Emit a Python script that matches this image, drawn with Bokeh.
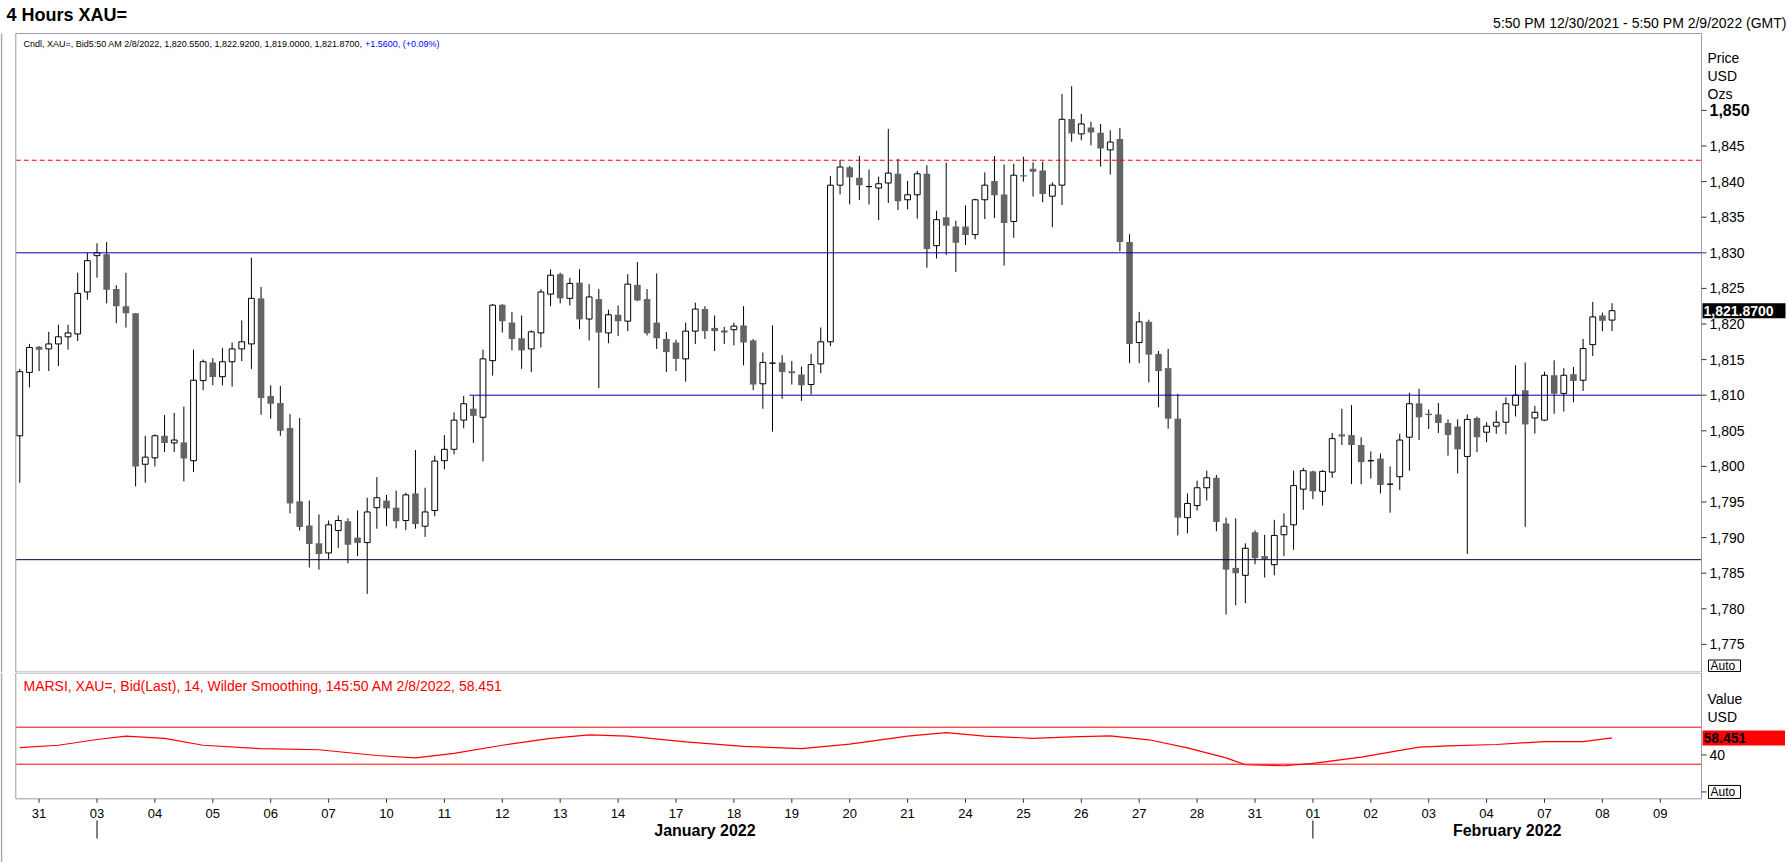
import numpy as np
from bokeh.plotting import figure
from bokeh.models import Range1d, ColumnDataSource
from bokeh.core.properties import value
from bokeh.layouts import column
from bokeh.embed import file_html
from bokeh.resources import INLINE

# ---------------- data (4-hour XAU= bid candles) ----------------
opens = [1804.3, 1813.2, 1816.8, 1816.5, 1817.2, 1818.2, 1818.6, 1824.5, 1829.6, 1829.8,
         1824.9, 1822.5, 1821.5, 1800.3, 1801.2, 1804.3, 1803.3, 1803.35, 1800.8, 1812.05,
         1814.6, 1812.6, 1814.7, 1816.5, 1817.2, 1823.6, 1809.9, 1808.9, 1805.4, 1795.1,
         1791.7, 1789.2, 1787.85, 1791.0, 1792.3, 1790.0, 1789.3, 1794.2, 1795.2, 1794.2,
         1792.4, 1796.2, 1791.6, 1793.8, 1800.8, 1802.4, 1806.5, 1808.1, 1806.9, 1814.85,
         1822.7, 1820.2, 1818.0, 1816.5, 1818.75, 1824.2, 1827.0, 1823.6, 1825.8, 1820.7,
         1823.5, 1818.75, 1821.3, 1820.4, 1825.5, 1823.5, 1820.2, 1817.9, 1817.4, 1815.1,
         1819.0, 1822.1, 1819.45, 1819.1, 1819.2, 1819.8, 1817.7, 1811.6, 1814.5, 1814.6,
         1813.35, 1812.9, 1811.5, 1814.4, 1817.5, 1839.5, 1842.0, 1840.55, 1839.3, 1839.1,
         1839.8, 1841.1, 1837.45, 1838.15, 1841.1, 1831.0, 1835.0, 1833.7, 1833.7, 1832.55,
         1837.45, 1840.1, 1838.2, 1834.4, 1840.9, 1841.8, 1841.55, 1837.95, 1839.5, 1848.8,
         1846.7, 1847.6, 1846.85, 1844.45, 1846.0, 1831.5, 1817.4, 1820.3, 1815.8, 1813.8,
         1806.7, 1792.8, 1794.5, 1797.0, 1798.4, 1792.0, 1785.75, 1784.7, 1790.75, 1787.4,
         1786.2, 1790.4, 1791.8, 1796.8, 1799.3, 1796.5, 1799.2, 1804.5, 1804.4, 1803.0,
         1800.8, 1801.1, 1797.5, 1798.55, 1804.1, 1808.85, 1807.4, 1807.3, 1806.1, 1805.6,
         1801.4, 1806.8, 1804.8, 1805.65, 1806.2, 1808.6, 1810.7, 1806.8, 1806.5, 1812.8,
         1810.25, 1812.95, 1812.1, 1817.1, 1821.2, 1820.55]
highs = [1813.7, 1817.2, 1816.9, 1818.9, 1819.9, 1819.9, 1827.2, 1830.0, 1831.35, 1831.5,
         1825.45, 1827.2, 1821.5, 1804.3, 1804.5, 1807.2, 1807.5, 1808.4, 1816.4, 1815.0,
         1815.2, 1816.6, 1817.4, 1820.5, 1829.3, 1825.2, 1811.4, 1811.3, 1807.35, 1806.8,
         1795.2, 1793.25, 1792.4, 1793.1, 1792.7, 1793.8, 1795.6, 1798.5, 1796.0, 1796.6,
         1796.3, 1802.3, 1797.0, 1801.5, 1804.4, 1807.6, 1809.9, 1809.9, 1816.4, 1822.8,
         1822.8, 1821.7, 1821.2, 1819.1, 1824.9, 1827.7, 1827.2, 1826.5, 1827.7, 1825.6,
         1824.9, 1822.0, 1822.6, 1827.0, 1828.7, 1824.9, 1827.1, 1818.9, 1817.8, 1820.2,
         1823.0, 1822.5, 1821.2, 1819.6, 1820.2, 1822.5, 1817.9, 1816.0, 1819.8, 1815.6,
         1814.8, 1814.0, 1815.8, 1819.5, 1840.8, 1843.0, 1842.2, 1843.6, 1841.7, 1840.7,
         1847.4, 1843.2, 1840.1, 1841.5, 1842.3, 1835.9, 1842.65, 1834.5, 1836.65, 1837.6,
         1841.3, 1843.6, 1842.4, 1842.5, 1843.5, 1842.7, 1842.8, 1839.9, 1852.3, 1853.4,
         1849.5, 1848.4, 1848.1, 1847.2, 1847.5, 1832.6, 1821.7, 1820.6, 1816.2, 1816.5,
         1810.2, 1796.2, 1798.0, 1799.4, 1798.8, 1792.8, 1792.7, 1789.2, 1791.0, 1790.4,
         1792.5, 1793.4, 1799.4, 1799.8, 1799.4, 1799.5, 1804.7, 1808.1, 1808.6, 1804.1,
         1802.1, 1801.8, 1800.0, 1804.6, 1810.35, 1810.9, 1808.0, 1808.9, 1806.6, 1806.6,
         1807.3, 1807.0, 1806.2, 1807.8, 1809.7, 1814.2, 1814.6, 1808.5, 1813.3, 1814.9,
         1813.8, 1813.95, 1817.9, 1823.1, 1821.6, 1822.92]
lows = [1797.7, 1811.1, 1813.4, 1813.4, 1814.1, 1816.4, 1817.6, 1823.4, 1826.5, 1822.9,
        1820.1, 1819.5, 1797.2, 1797.7, 1800.0, 1802.0, 1802.0, 1797.9, 1799.2, 1810.7,
        1811.4, 1811.4, 1811.2, 1814.8, 1813.7, 1807.25, 1806.7, 1804.3, 1793.4, 1791.0,
        1785.8, 1785.5, 1787.0, 1788.55, 1786.4, 1787.4, 1782.1, 1791.25, 1791.6, 1791.3,
        1791.05, 1791.25, 1790.1, 1793.0, 1799.6, 1801.7, 1805.35, 1803.3, 1800.7, 1812.75,
        1818.8, 1816.3, 1813.7, 1813.25, 1816.7, 1822.5, 1822.9, 1822.6, 1819.3, 1817.7,
        1811.0, 1817.3, 1818.3, 1819.0, 1823.2, 1818.4, 1816.5, 1813.25, 1813.4, 1811.9,
        1817.2, 1817.9, 1816.2, 1817.2, 1817.0, 1814.2, 1810.7, 1808.1, 1804.9, 1809.5,
        1811.5, 1809.2, 1810.1, 1813.1, 1816.9, 1838.2, 1836.8, 1837.4, 1836.8, 1834.6,
        1837.0, 1836.0, 1836.1, 1834.8, 1827.9, 1829.2, 1829.7, 1827.3, 1831.1, 1831.9,
        1834.75, 1834.9, 1828.2, 1832.1, 1840.0, 1837.9, 1837.1, 1833.6, 1836.7, 1845.6,
        1845.8, 1845.1, 1842.1, 1841.0, 1830.2, 1814.5, 1814.5, 1811.8, 1808.3, 1805.3,
        1790.3, 1790.6, 1793.8, 1795.2, 1790.9, 1779.2, 1780.5, 1780.8, 1786.25, 1784.4,
        1784.7, 1787.4, 1788.3, 1793.9, 1795.4, 1794.5, 1798.4, 1803.0, 1797.5, 1797.5,
        1798.3, 1796.2, 1793.5, 1796.7, 1799.4, 1803.7, 1805.25, 1804.7, 1801.5, 1799.0,
        1787.7, 1802.0, 1803.4, 1804.6, 1804.5, 1807.0, 1791.5, 1804.6, 1806.4, 1807.4,
        1807.7, 1809.0, 1810.6, 1815.5, 1819.0, 1819.0]
closes = [1813.3, 1816.7, 1816.4, 1817.2, 1818.2, 1818.75, 1824.3, 1828.9, 1830.0, 1824.8,
          1822.5, 1821.5, 1800.0, 1801.3, 1804.3, 1803.3, 1803.7, 1801.1, 1812.1, 1814.7,
          1812.55, 1814.7, 1816.5, 1817.5, 1823.6, 1809.6, 1808.8, 1805.0, 1794.8, 1791.5,
          1789.1, 1787.7, 1791.8, 1792.4, 1789.0, 1789.25, 1793.6, 1795.6, 1794.1, 1792.3,
          1796.0, 1791.9, 1793.6, 1800.75, 1802.4, 1806.5, 1808.8, 1807.1, 1815.1, 1822.65,
          1820.4, 1817.9, 1816.3, 1818.9, 1824.5, 1826.85, 1823.6, 1825.7, 1820.65, 1823.8,
          1818.8, 1821.3, 1820.4, 1825.6, 1823.3, 1818.7, 1818.0, 1816.05, 1815.1, 1819.0,
          1822.1, 1819.0, 1819.0, 1818.8, 1819.7, 1817.4, 1811.5, 1814.6, 1814.5, 1813.25,
          1813.1, 1811.4, 1814.3, 1817.5, 1839.5, 1842.05, 1840.6, 1839.5, 1839.3, 1839.7,
          1841.2, 1837.25, 1838.15, 1841.1, 1830.55, 1834.65, 1833.8, 1831.4, 1832.5, 1837.45,
          1839.5, 1838.1, 1834.2, 1840.9, 1840.7, 1841.4, 1838.25, 1839.5, 1848.75, 1846.75,
          1848.1, 1846.9, 1844.65, 1845.55, 1831.5, 1817.2, 1820.3, 1815.7, 1813.4, 1806.7,
          1792.8, 1794.8, 1797.0, 1798.4, 1792.2, 1785.5, 1785.0, 1788.5, 1787.1, 1787.0,
          1790.3, 1791.6, 1797.3, 1799.4, 1796.5, 1799.3, 1803.9, 1804.2, 1803.0, 1800.6,
          1800.8, 1797.4, 1797.5, 1803.7, 1808.8, 1806.9, 1807.2, 1806.1, 1804.4, 1802.4,
          1806.6, 1804.1, 1805.65, 1806.2, 1808.8, 1810.0, 1805.9, 1807.6, 1812.8, 1810.2,
          1812.8, 1812.0, 1816.55, 1821.0, 1820.45, 1821.87]

# MARSI (14, Wilder smoothing) line: bar index -> value
rsi_bar = [0, 4, 8, 11, 15, 19, 25, 31, 37, 41, 45, 50, 55, 59, 63, 69, 75, 81, 86, 92,
           96, 100, 105, 109, 113, 117, 121, 125, 127, 131, 134, 139, 145, 148, 153, 158,
           162, 165]
rsi_val = [48.0, 50.5, 56.7, 60.4, 57.9, 50.5, 46.8, 45.6, 39.4, 36.9, 41.8, 50.5, 57.9,
           61.7, 60.4, 54.2, 49.2, 46.8, 51.7, 60.4, 64.1, 60.4, 58.0, 59.5, 60.7, 56.4,
           47.7, 36.9, 29.4, 28.3, 30.8, 37.6, 48.4, 49.9, 51.3, 54.5, 54.5, 58.451]

# horizontal study lines (price levels) and the bar where each starts (None = left edge)
level_prices = [1843.0, 1830.0, 1810.0, 1786.9]
level_starts = [None, None, 46.6, None]
rsi_bands = [70, 30]
rsi_ticks = [0, 40]

day_numbers = [31, 3, 4, 5, 6, 7, 10, 11, 12, 13, 14, 17, 18, 19, 20, 21, 24, 25, 26, 27,
               28, 31, 1, 2, 3, 4, 7, 8, 9]
month_names = ["January 2022", "February 2022"]
price_ticks = list(range(1775, 1851, 5))
last_change = "+1.5600, (+0.09%)"

# ---------------- layout: page pixels <-> data ----------------
FONT = "Liberation Sans"
W_PAGE, H_MAIN, H_RSI = 1788, 672, 190
BAR_PX, BAR0_PX = 9.65, 19.3           # bar spacing and first bar position (px)
BARS_PER_DAY, FIRST_DAY_BAR = 6, 2
M_PX, M_REF, M_REF_PX = 7.12, 1830.0, 252.3   # main panel: px per USD, reference level
R_PX, R_REF, R_REF_PX = 0.925, 30.0, 763.7    # RSI panel (page px)
FRAME_L, FRAME_R, FRAME_T, SPLIT, FRAME_B = 15.3, 1701.0, 33.0, 672.0, 798.3
GRAY_FRAME = "#9C9CA8"
NAVY = "#0000A8"
DOWN_FILL = "#646464"

def xd(px):
    return (px - BAR0_PX) / BAR_PX

def my(py):
    return M_REF - (py - M_REF_PX) / M_PX

def mpy(v):
    return M_REF_PX + (M_REF - v) * M_PX

def ry(py):
    return R_REF - (py - R_REF_PX) / R_PX

def rpy(v):
    return R_REF_PX + (R_REF - v) * R_PX

X0, X1 = xd(FRAME_L), xd(FRAME_R)
xr = Range1d(xd(0), xd(W_PAGE))

def make_fig(h, yr):
    f = figure(width=W_PAGE, height=h, output_backend="svg", toolbar_location=None,
               x_range=xr, y_range=yr, x_axis_location=None, y_axis_location=None,
               min_border_left=0, min_border_right=0, min_border_top=0, min_border_bottom=0)
    f.grid.visible = False
    f.outline_line_color = None
    f.background_fill_color = "white"
    f.border_fill_color = "white"
    return f

def txt(f, x, y, s, size, color="black", bold=False, align="left", font=FONT):
    f.text(x=list(np.atleast_1d(x)), y=list(np.atleast_1d(y)), text=list(np.atleast_1d(s)),
           text_font=value(font), text_font_size=value(f"{size}px"),
           text_font_style="bold" if bold else "normal", text_color=color,
           text_align=align, text_baseline="middle")

def box(f, l, r, t, b, fill, line=None):
    f.quad(left=[l], right=[r], top=[t], bottom=[b], fill_color=fill, line_color=line,
           line_width=1)

# ---------------- main price panel ----------------
p = make_fig(H_MAIN, Range1d(my(H_MAIN), my(0)))

o = np.array(opens); h = np.array(highs); l = np.array(lows); c = np.array(closes)
idx = np.arange(len(o))
up = c >= o

src = ColumnDataSource(dict(x=idx, high=h, low=l))
p.segment(x0="x", y0="low", x1="x", y1="high", source=src, line_color="black", line_width=1)
p.vbar(x=idx[up], width=0.6, top=c[up], bottom=o[up], fill_color="white",
       line_color="black", line_width=1)
p.vbar(x=idx[~up], width=0.68, top=o[~up], bottom=c[~up], fill_color=DOWN_FILL,
       line_color=None)

level_styles = [dict(line_color="red", line_dash="5 3"), dict(line_color=NAVY),
                dict(line_color=NAVY), dict(line_color="#000038")]
for lvl, start, sty in zip(level_prices, level_starts, level_styles):
    p.segment(x0=[X0 if start is None else start], y0=[lvl], x1=[X1], y1=[lvl],
              line_width=1, **sty)

# panel frame and outer left border
box(p, X0, X1, my(FRAME_T), my(SPLIT - 0.5), None, GRAY_FRAME)
p.segment(x0=[xd(1)], y0=[my(FRAME_T)], x1=[xd(1)], y1=[my(H_MAIN)], line_color="#A8A8A8",
          line_width=1.5)

# right price axis
tick_y = price_ticks[:-1]
p.segment(x0=[X1] * len(price_ticks), y0=price_ticks, x1=[xd(FRAME_R + 5)] * len(price_ticks),
          y1=price_ticks, line_color="#333333", line_width=1)
txt(p, [xd(FRAME_R + 8)] * len(tick_y), tick_y, [f"{t:,}" for t in tick_y], 14)
txt(p, xd(FRAME_R + 8), price_ticks[-1], f"{price_ticks[-1]:,}", 16, bold=True)
for s, py in zip(["Price", "USD", "Ozs"], [57.7, 75.7, 93.3]):
    txt(p, xd(FRAME_R + 6), my(py), s, 14)
cy = mpy(closes[-1])
box(p, xd(FRAME_R + 1), xd(1785), my(cy - 7.5), my(cy + 7.5), "black")
txt(p, xd(FRAME_R + 2), closes[-1], f"{closes[-1]:,.4f}", 14, color="white", bold=True)
box(p, xd(1708), xd(1740), my(659.5), my(671), "white", "black")
txt(p, xd(1710), my(665.5), "Auto", 12)

# header texts
txt(p, xd(6), my(14), "4 Hours XAU=", 18, bold=True)
txt(p, xd(1786), my(22), "5:50 PM 12/30/2021 - 5:50 PM 2/9/2022 (GMT)", 14, align="right")

legend_black = ("Cndl, XAU=, Bid5:50 AM 2/8/2022, "
                + ", ".join(f"{v:,.4f}" for v in (opens[-1], highs[-1], lows[-1], closes[-1]))
                + ", ")
W = {',': .278, '.': .278, ' ': .278, ':': .278, '/': .278, '=': .584, '+': .584,
     '(': .333, ')': .333, '%': .889, 'C': .722, 'n': .556, 'd': .556, 'l': .222,
     'X': .667, 'A': .667, 'U': .722, 'B': .667, 'i': .222, 'M': .833, 'P': .667}
LEG_SIZE = 9

def text_width(s, size):
    return sum(W.get(ch, .556) for ch in s) * size

txt(p, xd(23), my(43), legend_black, LEG_SIZE)
txt(p, xd(23 + text_width(legend_black, LEG_SIZE)), my(43), last_change,
    LEG_SIZE, color="#0000FF")

# ---------------- RSI panel ----------------
r = make_fig(H_RSI, Range1d(ry(SPLIT + H_RSI), ry(SPLIT)))

for b in rsi_bands:
    r.segment(x0=[X0], y0=[b], x1=[X1], y1=[b], line_color="red", line_width=1)
r.line(rsi_bar, rsi_val, line_color="red", line_width=1.2)

box(r, X0, X1, ry(SPLIT + 0.5), ry(FRAME_B), None, GRAY_FRAME)
r.segment(x0=[xd(1)], y0=[ry(SPLIT)], x1=[xd(1)], y1=[ry(SPLIT + H_RSI)], line_color="#A8A8A8",
          line_width=1.5)

r.segment(x0=[X1] * len(rsi_ticks), y0=rsi_ticks, x1=[xd(FRAME_R + 5)] * len(rsi_ticks),
          y1=rsi_ticks, line_color="#333333", line_width=1)
txt(r, xd(FRAME_R + 8), rsi_ticks[1], f"{rsi_ticks[1]}", 14)
for s, py in zip(["Value", "USD"], [698.3, 716.0]):
    txt(r, xd(FRAME_R + 6), ry(py), s, 14)
vy = rpy(rsi_val[-1])
box(r, xd(FRAME_R + 1), xd(1784.5), ry(vy - 7.5), ry(vy + 7.5), "#FF0000")
txt(r, xd(FRAME_R + 2), rsi_val[-1], f"{rsi_val[-1]:.3f}", 14, bold=True)
ay = rpy(rsi_ticks[0])
box(r, xd(1708), xd(1740), ry(ay - 6.5), ry(ay + 6.5), "white", "black")
txt(r, xd(1710), rsi_ticks[0], "Auto", 12)

txt(r, xd(23), ry(685), "MARSI, XAU=, Bid(Last),  14, Wilder Smoothing, 145:50 AM 2/8/2022, "
    + f"{rsi_val[-1]:.3f}", 14, color="red")

# time axis: day ticks/labels, month ticks/labels
day_ticks = [FIRST_DAY_BAR + BARS_PER_DAY * k for k in range(len(day_numbers))]
r.segment(x0=day_ticks, y0=[ry(FRAME_B)] * len(day_ticks), x1=day_ticks,
          y1=[ry(FRAME_B + 4)] * len(day_ticks), line_color="#333333", line_width=1)
txt(r, day_ticks, [ry(812.7)] * len(day_ticks), [f"{d:02d}" for d in day_numbers], 13,
    align="center")

month_start_ticks = [day_ticks[i] for i in range(1, len(day_numbers))
                     if day_numbers[i] < day_numbers[i - 1]]
month_edges = month_start_ticks + [X1]
month_centres = [(a + b) / 2 for a, b in zip(month_edges[:-1], month_edges[1:])]
r.segment(x0=month_start_ticks, y0=[ry(820)] * len(month_start_ticks), x1=month_start_ticks,
          y1=[ry(838)] * len(month_start_ticks), line_color="black", line_width=1)
txt(r, month_centres, [ry(830)] * len(month_centres), month_names, 16, bold=True,
    align="center")

layout = column(p, r, spacing=0)
open("out.html", "w").write(file_html(layout, INLINE))
